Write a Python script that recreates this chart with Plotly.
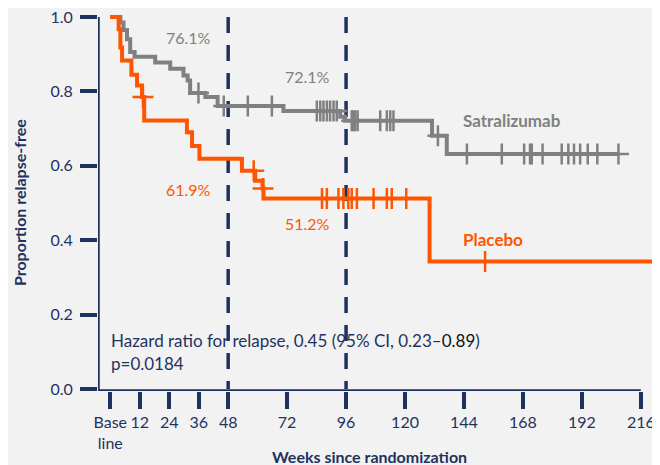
import numpy as np
import plotly.graph_objects as go

# ---------------- data ----------------
sat_times = [0, 4.1, 5.4, 6.8, 8.1, 9.9, 18.3, 24.4, 29.8, 31.5, 32.5, 38.7, 43.7,
             70.5, 93.6, 95.6, 131.0, 137.0]
sat_surv = [1.0, 0.985, 0.965, 0.940, 0.906, 0.893, 0.878, 0.861, 0.843, 0.829, 0.796,
            0.785, 0.761, 0.747, 0.732, 0.721, 0.681, 0.632]
sat_censor = [35.9, 46.2, 56.0, 65.8, 84.1, 85.5, 86.8, 88.2, 89.5, 90.9, 92.2,
              98.3, 98.9, 99.7, 100.7, 109.9, 112.6, 114.0, 115.3, 133.4, 145.2,
              159.4, 168.5, 170.9, 171.6, 176.0, 183.8, 186.5, 188.8, 191.3, 194.4,
              198.3, 206.9]

pla_times = [0, 3.4, 4.1, 4.8, 8.6, 10.9, 12.9, 13.8, 31.2, 33.3, 36.3, 53.6, 59.0,
             62.0, 62.4, 130.0]
pla_surv = [1.0, 0.967, 0.918, 0.883, 0.845, 0.816, 0.785, 0.722, 0.690, 0.653, 0.619,
            0.587, 0.560, 0.539, 0.512, 0.343]
pla_censor = [13.3, 58.4, 62.2, 86.2, 88.2, 92.9, 94.9, 96.9, 98.3, 100.4, 107.2,
              112.6, 114.6, 120.5, 152.6, 221.1]

x_tickvals = [0, 12, 24, 36, 48, 72, 96, 120, 144, 168, 192, 216]
x_ticktext = ["Base<br>line", "12", "24", "36", "48", "72", "96", "120", "144", "168",
              "192", "216"]
y_tickvals = [0.0, 0.2, 0.4, 0.6, 0.8, 1.0]
landmarks = [48, 96]

# ---------------- style ----------------
NAVY = "#1F325F"
GRAY = "#808080"
ORANGE = "#FF5500"
BG = "#F2F2F2"
FONT = "Lato"
XMIN, XMAX = -5, 223
YMIN, YMAX = -0.0054, 1.0242


def step_value(times, surv, t):
    idx = np.searchsorted(np.asarray(times), t, side="right") - 1
    return np.asarray(surv)[idx]


fig = go.Figure()

for times, surv, cens, color in [(sat_times, sat_surv, sat_censor, GRAY),
                                  (pla_times, pla_surv, pla_censor, ORANGE)]:
    t_end = max(cens)
    xs = list(times) + [t_end]
    ys = list(surv) + [surv[-1]]
    fig.add_trace(go.Scatter(x=xs, y=ys, mode="lines", line_shape="hv",
                             line=dict(color=color, width=4), hoverinfo="skip",
                             showlegend=False, cliponaxis=False))
    fig.add_trace(go.Scatter(x=cens, y=step_value(times, surv, cens), mode="markers",
                             marker=dict(symbol="cross-thin", size=15,
                                         line=dict(color=color, width=2.5)),
                             hoverinfo="skip", showlegend=False, cliponaxis=False))

shapes = []
for lm in landmarks:
    shapes.append(dict(type="line", xref="x", yref="y", x0=lm, x1=lm, y0=1.0, y1=0,
                       line=dict(color=NAVY, width=3.5, dash="16px,12px"), layer="below"))
# axis lines
shapes.append(dict(type="line", xref="x", yref="y", x0=XMIN, x1=XMIN, y0=YMIN, y1=1.0,
                   line=dict(color=NAVY, width=3.5)))
shapes.append(dict(type="line", xref="x", yref="y", x0=XMIN, x1=216, y0=YMIN, y1=YMIN,
                   line=dict(color=NAVY, width=3.5)))

annotations = [
    dict(x=31.9, y=0.945, text="76.1%", font=dict(color=GRAY, size=16)),
    dict(x=80.1, y=0.841, text="72.1%", font=dict(color=GRAY, size=16)),
    dict(x=31.7, y=0.536, text="61.9%", font=dict(color=ORANGE, size=16)),
    dict(x=80.1, y=0.446, text="51.2%", font=dict(color=ORANGE, size=16)),
    dict(x=163.4, y=0.722, text="<b>Satralizumab</b>", font=dict(color=GRAY, size=17)),
    dict(x=155.7, y=0.402, text="<b>Placebo</b>", font=dict(color=ORANGE, size=17)),
]
for a in annotations:
    a.update(xref="x", yref="y", showarrow=False, xanchor="center", yanchor="middle")
    a["font"]["family"] = FONT

annotations += [
    dict(xref="paper", yref="paper", x=0.0196, y=0.133, xanchor="left", yanchor="middle",
         showarrow=False,
         text="Hazard ratio for relapse, 0.45 (95% CI, 0.23–<span style='color:#111111'>0.89</span>)",
         font=dict(family=FONT, size=17, color=NAVY)),
    dict(xref="paper", yref="paper", x=0.0196, y=0.0731, xanchor="left", yanchor="middle",
         showarrow=False, text="p=0.0184", font=dict(family=FONT, size=17, color=NAVY)),
    dict(xref="paper", yref="paper", x=0.485, y=-0.170, xanchor="center", yanchor="middle",
         showarrow=False, text="<b>Weeks since randomization</b>",
         font=dict(family=FONT, size=16, color=NAVY)),
    dict(xref="paper", yref="paper", x=-0.139, y=0.491, xanchor="center", yanchor="middle",
         showarrow=False, textangle=-90, text="<b>Proportion relapse-free</b>",
         font=dict(family=FONT, size=16, color=NAVY)),
]

# the page places the figure 8px in from the top-left corner,
# so the figure is 652x457 to fill the 660x465 window
fig.update_layout(
    width=652, height=457,
    margin=dict(l=90, r=2, t=0, b=74, autoexpand=False),
    paper_bgcolor=BG, plot_bgcolor=BG,
    font=dict(family=FONT, size=16, color=NAVY),
    shapes=shapes, annotations=annotations,
    xaxis=dict(range=[XMIN, XMAX], tickmode="array", tickvals=x_tickvals,
               ticktext=x_ticktext, ticks="outside", ticklen=17, tickwidth=3.5,
               tickcolor=NAVY, showgrid=False, zeroline=False, showline=False,
               automargin=False, ticklabeloverflow="allow",
               tickfont=dict(family=FONT, size=16, color=NAVY)),
    yaxis=dict(range=[YMIN, YMAX], tickmode="array", tickvals=y_tickvals,
               tickformat=".1f", ticks="outside", ticklen=17, tickwidth=3.5,
               tickcolor=NAVY, showgrid=False, zeroline=False, showline=False,
               automargin=False, ticklabeloverflow="allow", ticklabelstandoff=4,
               tickfont=dict(family=FONT, size=16, color=NAVY)),
)

fig.write_html("out.html")
